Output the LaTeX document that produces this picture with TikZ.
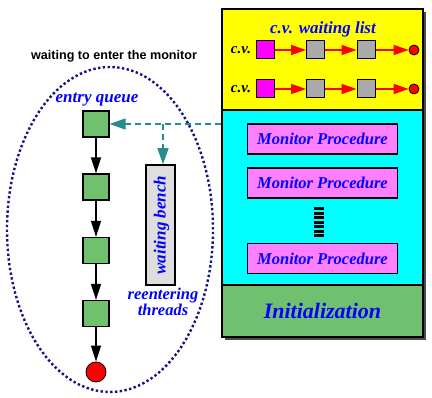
\documentclass[tikz,border=0pt]{standalone}
\usepackage{fontspec}
\setmainfont{Liberation Serif}
\newfontfamily\arialfont{Liberation Sans}
\usetikzlibrary{arrows.meta,shapes.geometric}
\definecolor{qgreen}{RGB}{112,192,112}
\definecolor{pinkproc}{RGB}{255,128,255}
\definecolor{tealc}{RGB}{40,140,140}
\definecolor{navyd}{RGB}{20,20,130}
\definecolor{benchgray}{RGB}{222,222,222}
\definecolor{qgray}{RGB}{170,170,170}
\definecolor{ycol}{RGB}{255,255,0}
\definecolor{ccol}{RGB}{0,255,255}
\definecolor{mcol}{RGB}{255,0,255}
\definecolor{rcol}{RGB}{255,0,0}
\definecolor{bcol}{RGB}{0,0,255}
\tikzset{
  blue text/.style={text=bcol, font=\bfseries\itshape},
  section/.style={draw=black, line width=1.5pt, inner sep=0pt},
  qbox/.style={draw=black, line width=1.2pt, fill=qgreen, minimum size=26pt, inner sep=0pt},
  cvbox/.style={draw=black, line width=1pt, minimum size=18pt, inner sep=0pt},
  endball/.style={circle, draw=black, line width=0.8pt, fill=rcol, inner sep=0pt},
  procbox/.style={draw=black, line width=1.5pt, fill=pinkproc, minimum width=150pt, minimum height=30pt, inner sep=0pt, blue text, font=\bfseries\itshape\fontsize{16.5}{18}\selectfont},
  blackarrow/.style={draw=black, line width=1.3pt, -{Triangle[length=16pt,width=10pt]}},
  redarrow/.style={draw=rcol, line width=1.6pt, -{Triangle[length=15pt,width=10pt]}},
  tealarrow/.style={draw=tealc, line width=1.3pt, dash pattern=on 6pt off 4pt, -{Triangle[length=16pt,width=11pt]}},
}
\begin{document}
\begin{tikzpicture}[x=1pt,y=-1pt]
\useasboundingbox (0,0) rectangle (432,398);
% monitor shadow
\fill[black!70] (225,12) rectangle (426,340);
% monitor sections
\node[section, fill=ycol, minimum width=201pt, minimum height=101pt] (cvsec) at (322.5,59.5) {};
\node[section, fill=ccol, minimum width=201pt, minimum height=175pt] (procsec) at (322.5,197.5) {};
\node[section, fill=qgreen, minimum width=201pt, minimum height=52pt, text=bcol, font=\bfseries\itshape\fontsize{22}{24}\selectfont] (init) at (322.5,311) {Initialization};
% c.v. waiting list
\node[blue text, font=\bfseries\itshape\fontsize{17}{19}\selectfont] (cvtitle) at (323,29) {c.v. waiting list};
\foreach \r/\y in {a/50,b/89}{
  \node[font=\bfseries\itshape\fontsize{15}{17}\selectfont] (cvl\r) at (241,\y) {c.v.};
  \node[cvbox, fill=mcol] (m\r) at (265,\y) {};
  \node[cvbox, fill=qgray] (g\r) at (315.5,\y) {};
  \node[cvbox, fill=qgray] (h\r) at (366,\y) {};
  \node[endball, minimum size=10pt] (e\r) at (414,\y) {};
  \draw[redarrow] (m\r) -- (g\r);
  \draw[redarrow] (g\r) -- (h\r);
  \draw[redarrow] (h\r) -- (e\r);
}
% procedures
\node[procbox] (p1) at (322.5,139) {Monitor Procedure};
\node[procbox] (p2) at (322.5,183) {Monitor Procedure};
\node[procbox] (p3) at (322.5,258.5) {Monitor Procedure};
\foreach \i in {0,...,6}{
  \fill[black] (314,207.5+4.5*\i) rectangle (324,210.2+4.5*\i);
}
% left part
\node[font=\arialfont\bfseries\fontsize{12.6}{14}\selectfont] (wtitle) at (114,56) {waiting to enter the monitor};
\node[draw=navyd, line width=2.4pt, dash pattern=on 2.4pt off 2.4pt, ellipse, minimum width=206pt, minimum height=325pt, inner sep=0pt] (oval) at (110,229.5) {};
\node[blue text, font=\bfseries\itshape\fontsize{17}{19}\selectfont] (eq) at (97,100) {entry queue};
\node[qbox] (q1) at (96,124) {};
\node[qbox] (q2) at (96,187) {};
\node[qbox] (q3) at (96,250.5) {};
\node[qbox] (q4) at (96,313.5) {};
\node[endball, minimum size=20pt] (qend) at (96,372) {};
\draw[blackarrow] (q1) -- (q2);
\draw[blackarrow] (q2) -- (q3);
\draw[blackarrow] (q3) -- (q4);
\draw[blackarrow] (q4) -- (qend);
% waiting bench
\node[draw=black, line width=1.5pt, fill=benchgray, minimum width=29pt, minimum height=120pt, inner sep=0pt] (bench) at (160.5,225) {};
\node[rotate=90, blue text, font=\bfseries\itshape\fontsize{17}{19}\selectfont] (benchtxt) at ([xshift=1pt]bench.center) {waiting bench};
\node[blue text, font=\bfseries\itshape\fontsize{16.5}{15.5}\selectfont, align=center] (reent) at (163,302) {reentering\\threads};
% dashed teal arrows
\coordinate (src) at (procsec.west |- q1.east);
\coordinate (br) at (163,124);
\draw[tealarrow] (src) -- (q1.east);
\draw[tealarrow] (br) -- (br |- bench.north);
\end{tikzpicture}
\end{document}
